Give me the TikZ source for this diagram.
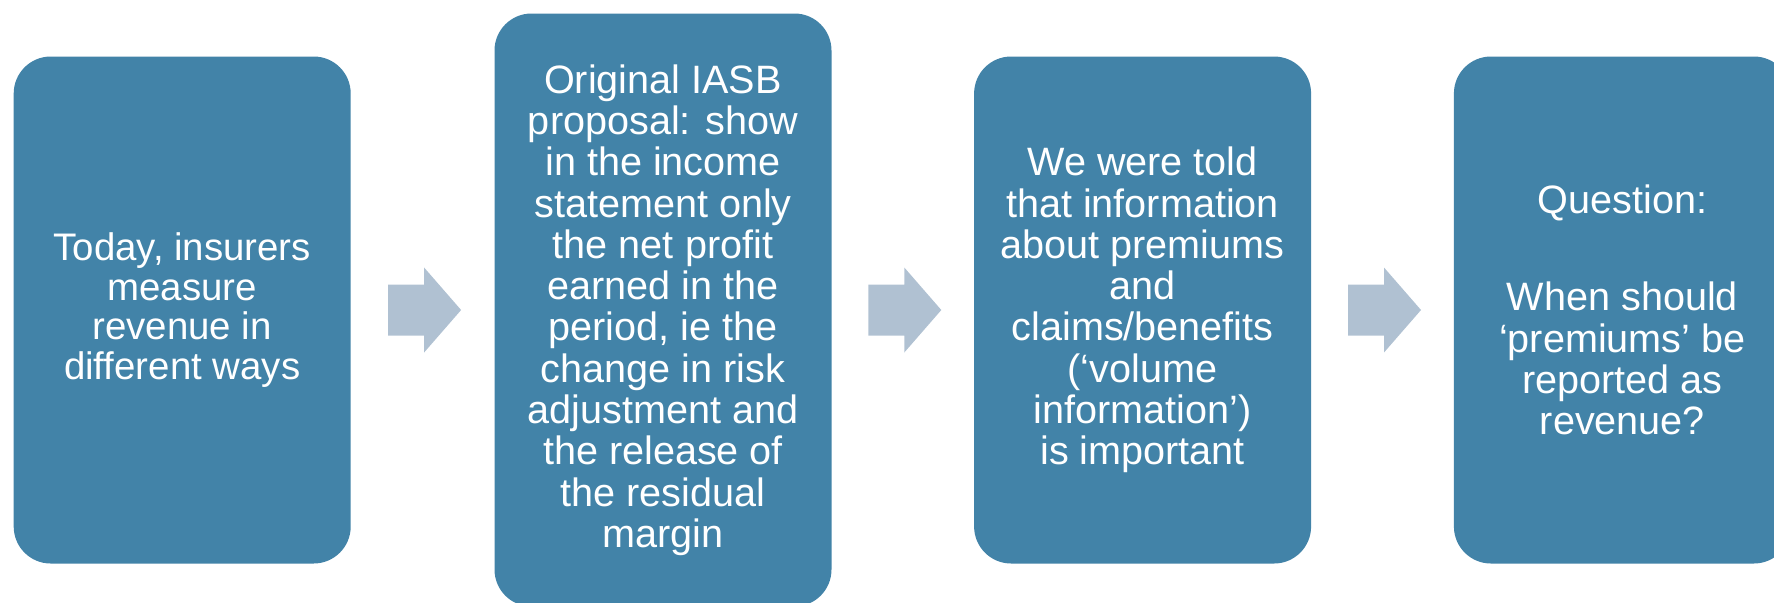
\documentclass[tikz,border=0pt]{standalone}
\usepackage{fontspec}
\setmainfont{Liberation Sans}
\usepackage{tikz}
\usetikzlibrary{calc}

\definecolor{boxblue}{RGB}{66,131,168}
\definecolor{arrowgray}{RGB}{176,193,210}

\tikzset{
  stepbox/.style={fill=boxblue, rounded corners=18.5pt, text=white, align=center,
    minimum width=168.5pt, inner sep=0pt, font=\fontsize{19.8}{20.65}\selectfont},
  blockarrow/.pic={
    \fill[arrowgray] (-34.5,-25.5) -- (1.5,-25.5) -- (1.5,-42.5) -- (38.5,0)
      -- (1.5,42.5) -- (1.5,25.5) -- (-34.5,25.5) -- cycle;
  }
}

\begin{document}
\begin{tikzpicture}[x=0.5pt,y=-0.5pt]
\useasboundingbox (0,0) rectangle (1774,602);

% the four steps
\node[stepbox, minimum height=253.5pt, font=\fontsize{19.2}{19.7}\selectfont] (today) at (182.2,310)
  {Today, insurers\\measure\\revenue in\\different ways};
\node[stepbox, minimum height=296.5pt] (iasb) at (663,310)
  {Original IASB\\proposal: show\\in the income\\statement only\\the net profit\\earned in the\\period, ie the\\change in risk\\adjustment and\\the release of\\the residual\\margin};
\node[stepbox, minimum height=253.5pt] (volume) at (1142.6,310)
  {We were told\\that information\\about premiums\\and\\claims/benefits\\(‘volume\\information’)\\is important};
\node[stepbox, minimum height=253.5pt] (question) at (1622.4,310)
  {Question:\\[28pt]When should\\‘premiums’ be\\reported as\\revenue?};

% arrows between the steps
\pic at ($(today.east)!0.5!(iasb.west)$) {blockarrow};
\pic at ($(iasb.east)!0.5!(volume.west)$) {blockarrow};
\pic at ($(volume.east)!0.5!(question.west)$) {blockarrow};
\end{tikzpicture}
\end{document}
